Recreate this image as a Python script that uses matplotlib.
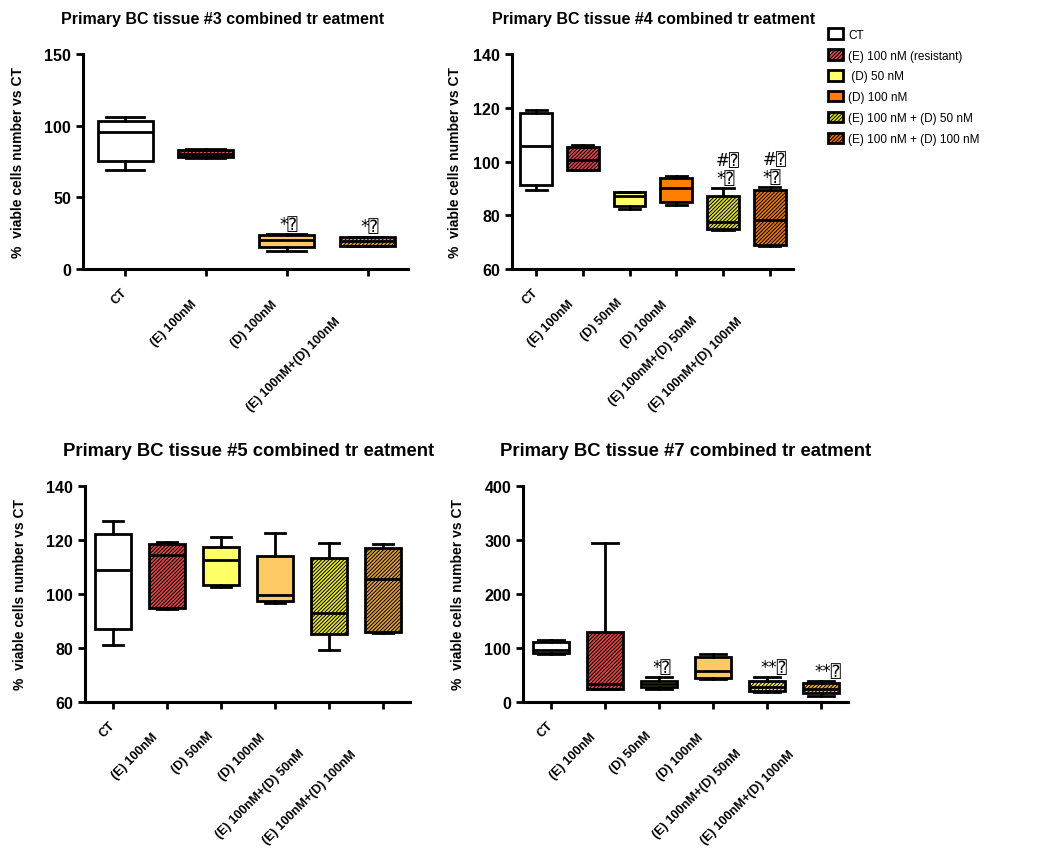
import matplotlib.pyplot as plt
from matplotlib.patches import Patch
from matplotlib.transforms import ScaledTranslation

plt.rcParams['font.family'] = ['Liberation Sans', 'DejaVu Sans']
plt.rcParams['hatch.linewidth'] = 0.7

# Group names per panel
labels_3 = ['CT', '(E) 100nM', '(D) 100nM', '(E) 100nM+(D) 100nM']
labels_6 = ['CT', '(E) 100nM', '(D) 50nM', '(D) 100nM',
            '(E) 100nM+(D) 50nM', '(E) 100nM+(D) 100nM']

# Box statistics: whisker low, Q1, median, Q3, whisker high
t3_low = [69.3, 77.5, 12.8, 16.0]
t3_q1 = [75.1, 78.0, 15.1, 16.3]
t3_med = [95.8, 80.0, 20.4, 19.5]
t3_q3 = [103.5, 83.2, 24.0, 22.1]
t3_high = [105.8, 83.5, 24.4, 22.5]

t4_low = [89.4, 97.0, 82.3, 83.8, 74.6, 68.7]
t4_q1 = [91.3, 97.0, 83.3, 85.1, 74.9, 69.1]
t4_med = [105.9, 100.6, 87.3, 90.0, 77.6, 78.4]
t4_q3 = [118.0, 105.5, 88.5, 93.7, 87.0, 89.4]
t4_high = [119.2, 106.1, 88.8, 94.7, 90.0, 90.4]

t5_low = [81.2, 94.5, 102.7, 96.6, 79.3, 85.6]
t5_q1 = [87.1, 94.7, 103.3, 97.5, 85.2, 85.8]
t5_med = [109.0, 114.5, 112.6, 99.6, 93.0, 105.5]
t5_q3 = [122.2, 118.5, 117.6, 114.2, 113.2, 116.9]
t5_high = [127.1, 119.3, 121.3, 122.5, 118.8, 118.5]

t7_low = [89.2, 23.4, 23.4, 43.1, 18.5, 10.5]
t7_q1 = [90.5, 24.6, 27.7, 44.3, 19.7, 17.2]
t7_med = [97.2, 33.8, 33.8, 56.6, 27.7, 24.6]
t7_q3 = [112.0, 130.5, 38.8, 83.1, 38.2, 35.1]
t7_high = [115.7, 295.4, 46.2, 89.2, 46.2, 38.0]

# Significance marks (group index -> text)
marks_3 = {2: '*\u2370', 3: '*\u2370'}
marks_4 = {4: '#\u2370\n*\u2370', 5: '#\u2370\n*\u2370'}
marks_5 = {}
marks_7 = {2: '*\u2370', 4: '**\u2370', 5: '**\u2370'}

legend_names = ['CT', '(E) 100 nM (resistant)', ' (D) 50 nM', '(D) 100 nM',
                '(E) 100 nM + (D) 50 nM', '(E) 100 nM + (D) 100 nM']
legend_colors = ['white', '#d9474f', '#ffff66', '#ff8000', '#d8d838', '#e07010']
HATCH = '/' * 9
legend_hatch = [None, HATCH, None, None, HATCH, HATCH]

fig = plt.figure(figsize=(10.41, 8.54), dpi=100)
renderer = fig.canvas.get_renderer()


def panel(rect, title, labels, low, q1, med, q3, high, colors, hatches,
          ylim, yticks, marks, title_size, title_x, capw):
    ax = fig.add_axes(rect)
    stats = []
    for i in range(len(labels)):
        stats.append({'whislo': low[i], 'q1': q1[i], 'med': med[i],
                      'q3': q3[i], 'whishi': high[i]})
    pos = list(range(1, len(labels) + 1))
    res = ax.bxp(stats, positions=pos, widths=0.68, showfliers=False,
                 patch_artist=True, capwidths=capw,
                 boxprops=dict(linewidth=2, edgecolor='black'),
                 medianprops=dict(color='black', linewidth=2),
                 whiskerprops=dict(color='black', linewidth=2),
                 capprops=dict(color='black', linewidth=2))
    for b, c, h in zip(res['boxes'], colors, hatches):
        b.set_facecolor(c)
        if h:
            b.set_hatch(h)
    for i, txt in marks.items():
        ax.annotate(txt, (pos[i], high[i]), xytext=(-5, 1),
                    textcoords='offset points', ha='left', va='bottom',
                    fontsize=12, linespacing=1.0,
                    family=['DejaVu Sans', 'DejaVu Sans Mono'])
    ax.set_xlim(0.48, len(labels) + 0.5)
    ax.set_ylim(*ylim)
    ax.set_yticks(yticks)
    ax.set_xticks(pos)
    ax.set_xticklabels([])

    # rotated category names, pushed further down-left the longer they are
    for p, lab in zip(pos, labels):
        t = ax.text(p, 0, lab, transform=ax.get_xaxis_transform(),
                    fontsize=9, fontweight='bold', ha='right', va='top',
                    rotation_mode='anchor')
        length = t.get_window_extent(renderer).width
        d = 0.26 * length
        off = ScaledTranslation(-d / fig.dpi, -(13 + d) / fig.dpi,
                                fig.dpi_scale_trans)
        t.set_transform(ax.get_xaxis_transform() + off)
        t.set_rotation(45)

    for lab in ax.get_yticklabels():
        lab.set_fontweight('bold')
        lab.set_fontsize(11.5)
    ax.spines['top'].set_visible(False)
    ax.spines['right'].set_visible(False)
    ax.spines['left'].set_linewidth(2.2)
    ax.spines['bottom'].set_linewidth(2.2)
    ax.tick_params(width=2, length=5)
    ax.set_ylabel('%  viable cells number vs CT', fontsize=10,
                  fontweight='bold')
    ax.yaxis.set_label_coords(-0.178, 0.5)
    ax.set_title(title, fontsize=title_size, fontweight='bold', pad=22,
                 x=title_x)
    return ax


panel([0.0797, 0.6838, 0.3123, 0.2518], 'Primary BC tissue #3 combined tr eatment',
      labels_3, t3_low, t3_q1, t3_med, t3_q3, t3_high,
      ['white', '#ee5555', '#ffc966', '#f0a030'],
      [None, HATCH, None, HATCH],
      (0, 150), [0, 50, 100, 150], marks_3, 11.5, 0.43, 0.48)

panel([0.4918, 0.6838, 0.2700, 0.2518], 'Primary BC tissue #4 combined tr eatment',
      labels_6, t4_low, t4_q1, t4_med, t4_q3, t4_high,
      ['white', '#d9474f', '#ffff66', '#ff8000', '#e0e040', '#e87818'],
      [None, HATCH, None, None, HATCH, HATCH],
      (60, 140), [60, 80, 100, 120, 140], marks_4, 11.5, 0.505, 0.45)

panel([0.0817, 0.1768, 0.3122, 0.2529], 'Primary BC tissue #5 combined tr eatment',
      labels_6, t5_low, t5_q1, t5_med, t5_q3, t5_high,
      ['white', '#e04848', '#ffff66', '#ffc966', '#e6e640', '#e0a040'],
      [None, HATCH, None, None, HATCH, HATCH],
      (60, 140), [60, 80, 100, 120, 140], marks_5, 13.3, 0.503, 0.37)

panel([0.5024, 0.1768, 0.3122, 0.2529], 'Primary BC tissue #7 combined tr eatment',
      labels_6, t7_low, t7_q1, t7_med, t7_q3, t7_high,
      ['white', '#e04848', '#ffff66', '#ffc966', '#ffff44', '#ffb030'],
      [None, HATCH, None, None, HATCH, HATCH],
      (0, 400), [0, 100, 200, 300, 400], marks_7, 13.3, 0.5, 0.48)

handles = [Patch(facecolor=c, edgecolor='black', linewidth=2, hatch=h)
           for c, h in zip(legend_colors, legend_hatch)]
fig.legend(handles, legend_names, loc='upper left',
           bbox_to_anchor=(0.785, 0.978), frameon=False,
           prop={'size': 8.5},
           handlelength=1.25, handleheight=1.0, labelspacing=0.72,
           handletextpad=0.5)

fig.savefig('out.png', dpi=100)
